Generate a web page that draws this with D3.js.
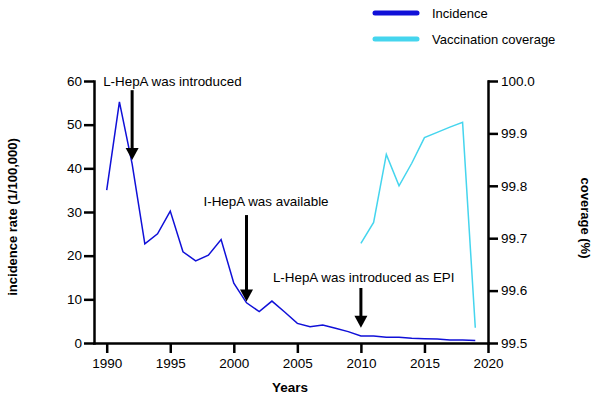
<!DOCTYPE html>
<html>
<head>
<meta charset="utf-8">
<script src="https://cdn.jsdelivr.net/npm/d3@7"></script>
<style>
  body { margin: 0; background: #fff; }
  svg { font-family: "Liberation Sans", Arial, sans-serif; }
  .axis path, .axis line { stroke: #000; stroke-width: 2.5; }
  .axis text { font-size: 13.5px; fill: #000; }
</style>
</head>
<body>
<svg width="600" height="400"></svg>
<script>
// incidence per 100,000, 1990-2019
var years = d3.range(1990, 2020);
var incidence = [35.0, 55.2, 41.0, 22.7, 25.0, 30.2, 20.9, 18.8, 20.1, 23.7,
                 13.7, 9.2, 7.2, 9.6, 7.1, 4.5, 3.7, 4.1, 3.4, 2.6,
                 1.6, 1.6, 1.3, 1.3, 1.1, 1.0, 0.9, 0.7, 0.7, 0.6];
// vaccination coverage (%), 2010-2019
var covYears = d3.range(2010, 2020);
var coverage = [99.690, 99.730, 99.860, 99.800, 99.843, 99.892, 99.902, 99.912, 99.921, 99.529];

var xTicks = [1990, 1995, 2000, 2005, 2010, 2015, 2020];
var yTicks = [0, 10, 20, 30, 40, 50, 60];
var y2Ticks = [99.5, 99.6, 99.7, 99.8, 99.9, 100.0];

// annotations: year of arrow, arrow top / tip in incidence units
var notes = [
  {year: 1992, top: 57.9, tip: 41.9, text: "L-HepA was introduced", dx: -29, ty: 60.0},
  {year: 2001, top: 29.3, tip: 9.5, text: "I-HepA was available", dx: -43, ty: 32.4},
  {year: 2010, top: 12.6, tip: 3.5, text: "L-HepA was introduced as EPI", dx: -88, ty: 15.1}
];

var svg = d3.select("svg"),
    margin = {top: 81, right: 112, bottom: 57, left: 94},
    width = +svg.attr("width") - margin.left - margin.right,
    height = +svg.attr("height") - margin.top - margin.bottom;

var x = d3.scaleLinear().domain([1989, 2020]).range([0, width]),
    y = d3.scaleLinear().domain([0, 60]).range([height, 0]),
    y2 = d3.scaleLinear().domain([99.5, 100]).range([height, 0]);

var g = svg.append("g")
    .attr("transform", "translate(" + margin.left + "," + margin.top + ")");

var incColor = "#1010d8",
    covColor = "#45d5ee";

// lines
var line = d3.line()
    .x(function(d, i) { return x(years[i]); })
    .y(function(d) { return y(d); });
var line2 = d3.line()
    .x(function(d, i) { return x(covYears[i]); })
    .y(function(d) { return y2(d); });

g.append("path")
    .datum(incidence)
    .attr("fill", "none")
    .attr("stroke", incColor)
    .attr("stroke-width", 1.5)
    .attr("d", line);

g.append("path")
    .datum(coverage)
    .attr("fill", "none")
    .attr("stroke", covColor)
    .attr("stroke-width", 1.5)
    .attr("d", line2);

// axes
g.append("g")
    .attr("class", "axis")
    .attr("transform", "translate(0," + height + ")")
    .call(d3.axisBottom(x).tickValues(xTicks).tickFormat(d3.format("d"))
        .tickSizeInner(10).tickSizeOuter(0).tickPadding(5));

g.append("g")
    .attr("class", "axis")
    .call(d3.axisLeft(y).tickValues(yTicks).tickSizeInner(10).tickSizeOuter(0).tickPadding(2));

g.append("g")
    .attr("class", "axis")
    .attr("transform", "translate(" + width + ",0)")
    .call(d3.axisRight(y2).tickValues(y2Ticks).tickFormat(d3.format(".1f"))
        .tickSizeInner(10).tickSizeOuter(0).tickPadding(3));

g.selectAll(".axis .domain").attr("stroke-linecap", "square");

// arrows + notes
var na = g.append("g").selectAll("g")
    .data(notes).enter().append("g");

na.append("line")
    .attr("x1", function(d) { return x(d.year); })
    .attr("x2", function(d) { return x(d.year); })
    .attr("y1", function(d) { return y(d.top); })
    .attr("y2", function(d) { return y(d.tip) - 10; })
    .attr("stroke", "#000")
    .attr("stroke-width", 3);

na.append("path")
    .attr("d", function(d) {
        var cx = x(d.year), cy = y(d.tip);
        return "M" + (cx - 6.5) + "," + (cy - 12) + "L" + (cx + 6.5) + "," + (cy - 12) + "L" + cx + "," + cy + "Z";
    })
    .attr("fill", "#000");

na.append("text")
    .attr("x", function(d) { return x(d.year) + d.dx; })
    .attr("y", function(d) { return y(d.ty); })
    .attr("dy", "0.35em")
    .attr("font-size", 13.4)
    .text(function(d) { return d.text; });

// axis titles
svg.append("text")
    .attr("transform", "translate(17," + (margin.top + height / 2 + 5) + ") rotate(-90)")
    .attr("text-anchor", "middle")
    .attr("font-size", 13)
    .attr("font-weight", "bold")
    .text("incidence rate (1/100,000)");

svg.append("text")
    .attr("transform", "translate(581," + (margin.top + height / 2 + 6) + ") rotate(90)")
    .attr("text-anchor", "middle")
    .attr("font-size", 13)
    .attr("font-weight", "bold")
    .text("coverage (%)");

svg.append("text")
    .attr("x", 290)
    .attr("y", 392)
    .attr("text-anchor", "middle")
    .attr("font-size", 13.5)
    .attr("font-weight", "bold")
    .text("Years");

// legend
var legend = svg.append("g").selectAll("g")
    .data([{name: "Incidence", color: incColor}, {name: "Vaccination coverage", color: covColor}])
    .enter().append("g")
    .attr("transform", function(d, i) { return "translate(375," + (13 + i * 26) + ")"; });

legend.append("line")
    .attr("x1", 0).attr("x2", 42)
    .attr("stroke", function(d) { return d.color; })
    .attr("stroke-width", 5)
    .attr("stroke-linecap", "round");

legend.append("text")
    .attr("x", 57)
    .attr("dy", "0.35em")
    .attr("font-size", 13)
    .text(function(d) { return d.name; });
</script>
</body>
</html>
